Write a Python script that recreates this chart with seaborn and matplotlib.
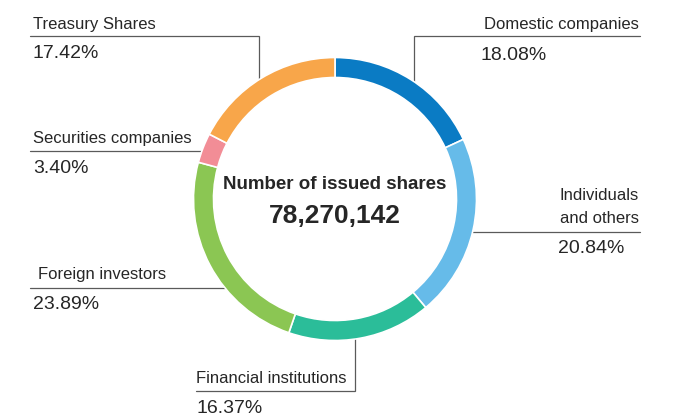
import matplotlib
matplotlib.use("Agg")
import matplotlib.pyplot as plt
import seaborn as sns

# Shareholder composition (% of issued shares)
categories = ["Domestic companies", "Individuals\nand others", "Financial institutions",
              "Foreign investors", "Securities companies", "Treasury Shares"]
shares_pct = [18.08, 20.84, 16.37, 23.89, 3.40, 17.42]
issued_shares = 78270142
center_title = "Number of issued shares"
segment_colors = ["#0a7bc4", "#66bbe9", "#2bbd99", "#8bc653", "#f28d96", "#f8a64a"]

sns.set_theme(style="white")
plt.rcParams["font.family"] = ["Liberation Sans", "DejaVu Sans"]

W, H = 678, 417
TEXT = "#262626"
LINE = "#5a5a5a"

fig = plt.figure(figsize=(W / 100, H / 100), dpi=100)
ax = fig.add_axes([0, 0, 1, 1])


def Y(y):
    # pixel rows measured from the top
    return H - y


CX, CY, R, RING = 335, 199, 141.5, 20

palette = sns.color_palette(segment_colors)
ax.pie(shares_pct, colors=palette, startangle=90, counterclock=False,
       radius=R, center=(CX, Y(CY)),
       wedgeprops=dict(width=RING, edgecolor="white", linewidth=1.2))

# label placement: name (x, baseline, ha), percent (x, baseline, ha), leader path
layout = {
    "Domestic companies": dict(name=(639, 29, "right"), pct=(480, 60, "left"),
                               path=[(640, 36), (414, 36), (414, 84)]),
    "Individuals\nand others": dict(name=(639, 200, "right"), pct=(558, 253, "left"),
                                    path=[(640, 232), (470, 232)]),
    "Financial institutions": dict(name=(196, 383, "left"), pct=(196, 413, "left"),
                                   path=[(196, 391), (355, 391), (355, 336)]),
    "Foreign investors": dict(name=(38, 279, "left"), pct=(33, 309, "left"),
                              path=[(30, 288), (227, 288)]),
    "Securities companies": dict(name=(33, 143, "left"), pct=(33, 173, "left"),
                                 path=[(30, 151), (204, 151)]),
    "Treasury Shares": dict(name=(33, 29, "left"), pct=(33, 58, "left"),
                            path=[(30, 36), (259, 36), (259, 83)]),
}

for cat, pct in zip(categories, shares_pct):
    spec = layout[cat]
    xs = [p[0] for p in spec["path"]]
    ys = [Y(p[1]) for p in spec["path"]]
    ax.plot(xs, ys, color=LINE, lw=0.9, zorder=0.5, solid_joinstyle="miter")

    nx, ny, nha = spec["name"]
    for i, line in enumerate(cat.split("\n")):
        ax.text(nx, Y(ny + i * 23), line, ha=nha, va="baseline",
                fontsize=12, color=TEXT)

    px, py, pha = spec["pct"]
    ax.text(px, Y(py), f"{pct:.2f}%", ha=pha, va="baseline",
            fontsize=14, color=TEXT)

ax.text(CX, Y(189), center_title, ha="center", va="baseline",
        fontsize=13.5, fontweight="bold", color=TEXT)
ax.text(CX, Y(223), f"{issued_shares:,}", ha="center", va="baseline",
        fontsize=19, fontweight="bold", color=TEXT)

ax.set_xlim(0, W)
ax.set_ylim(0, H)
ax.set_aspect("equal")
ax.axis("off")

fig.savefig("out.png", dpi=100, facecolor="white")
